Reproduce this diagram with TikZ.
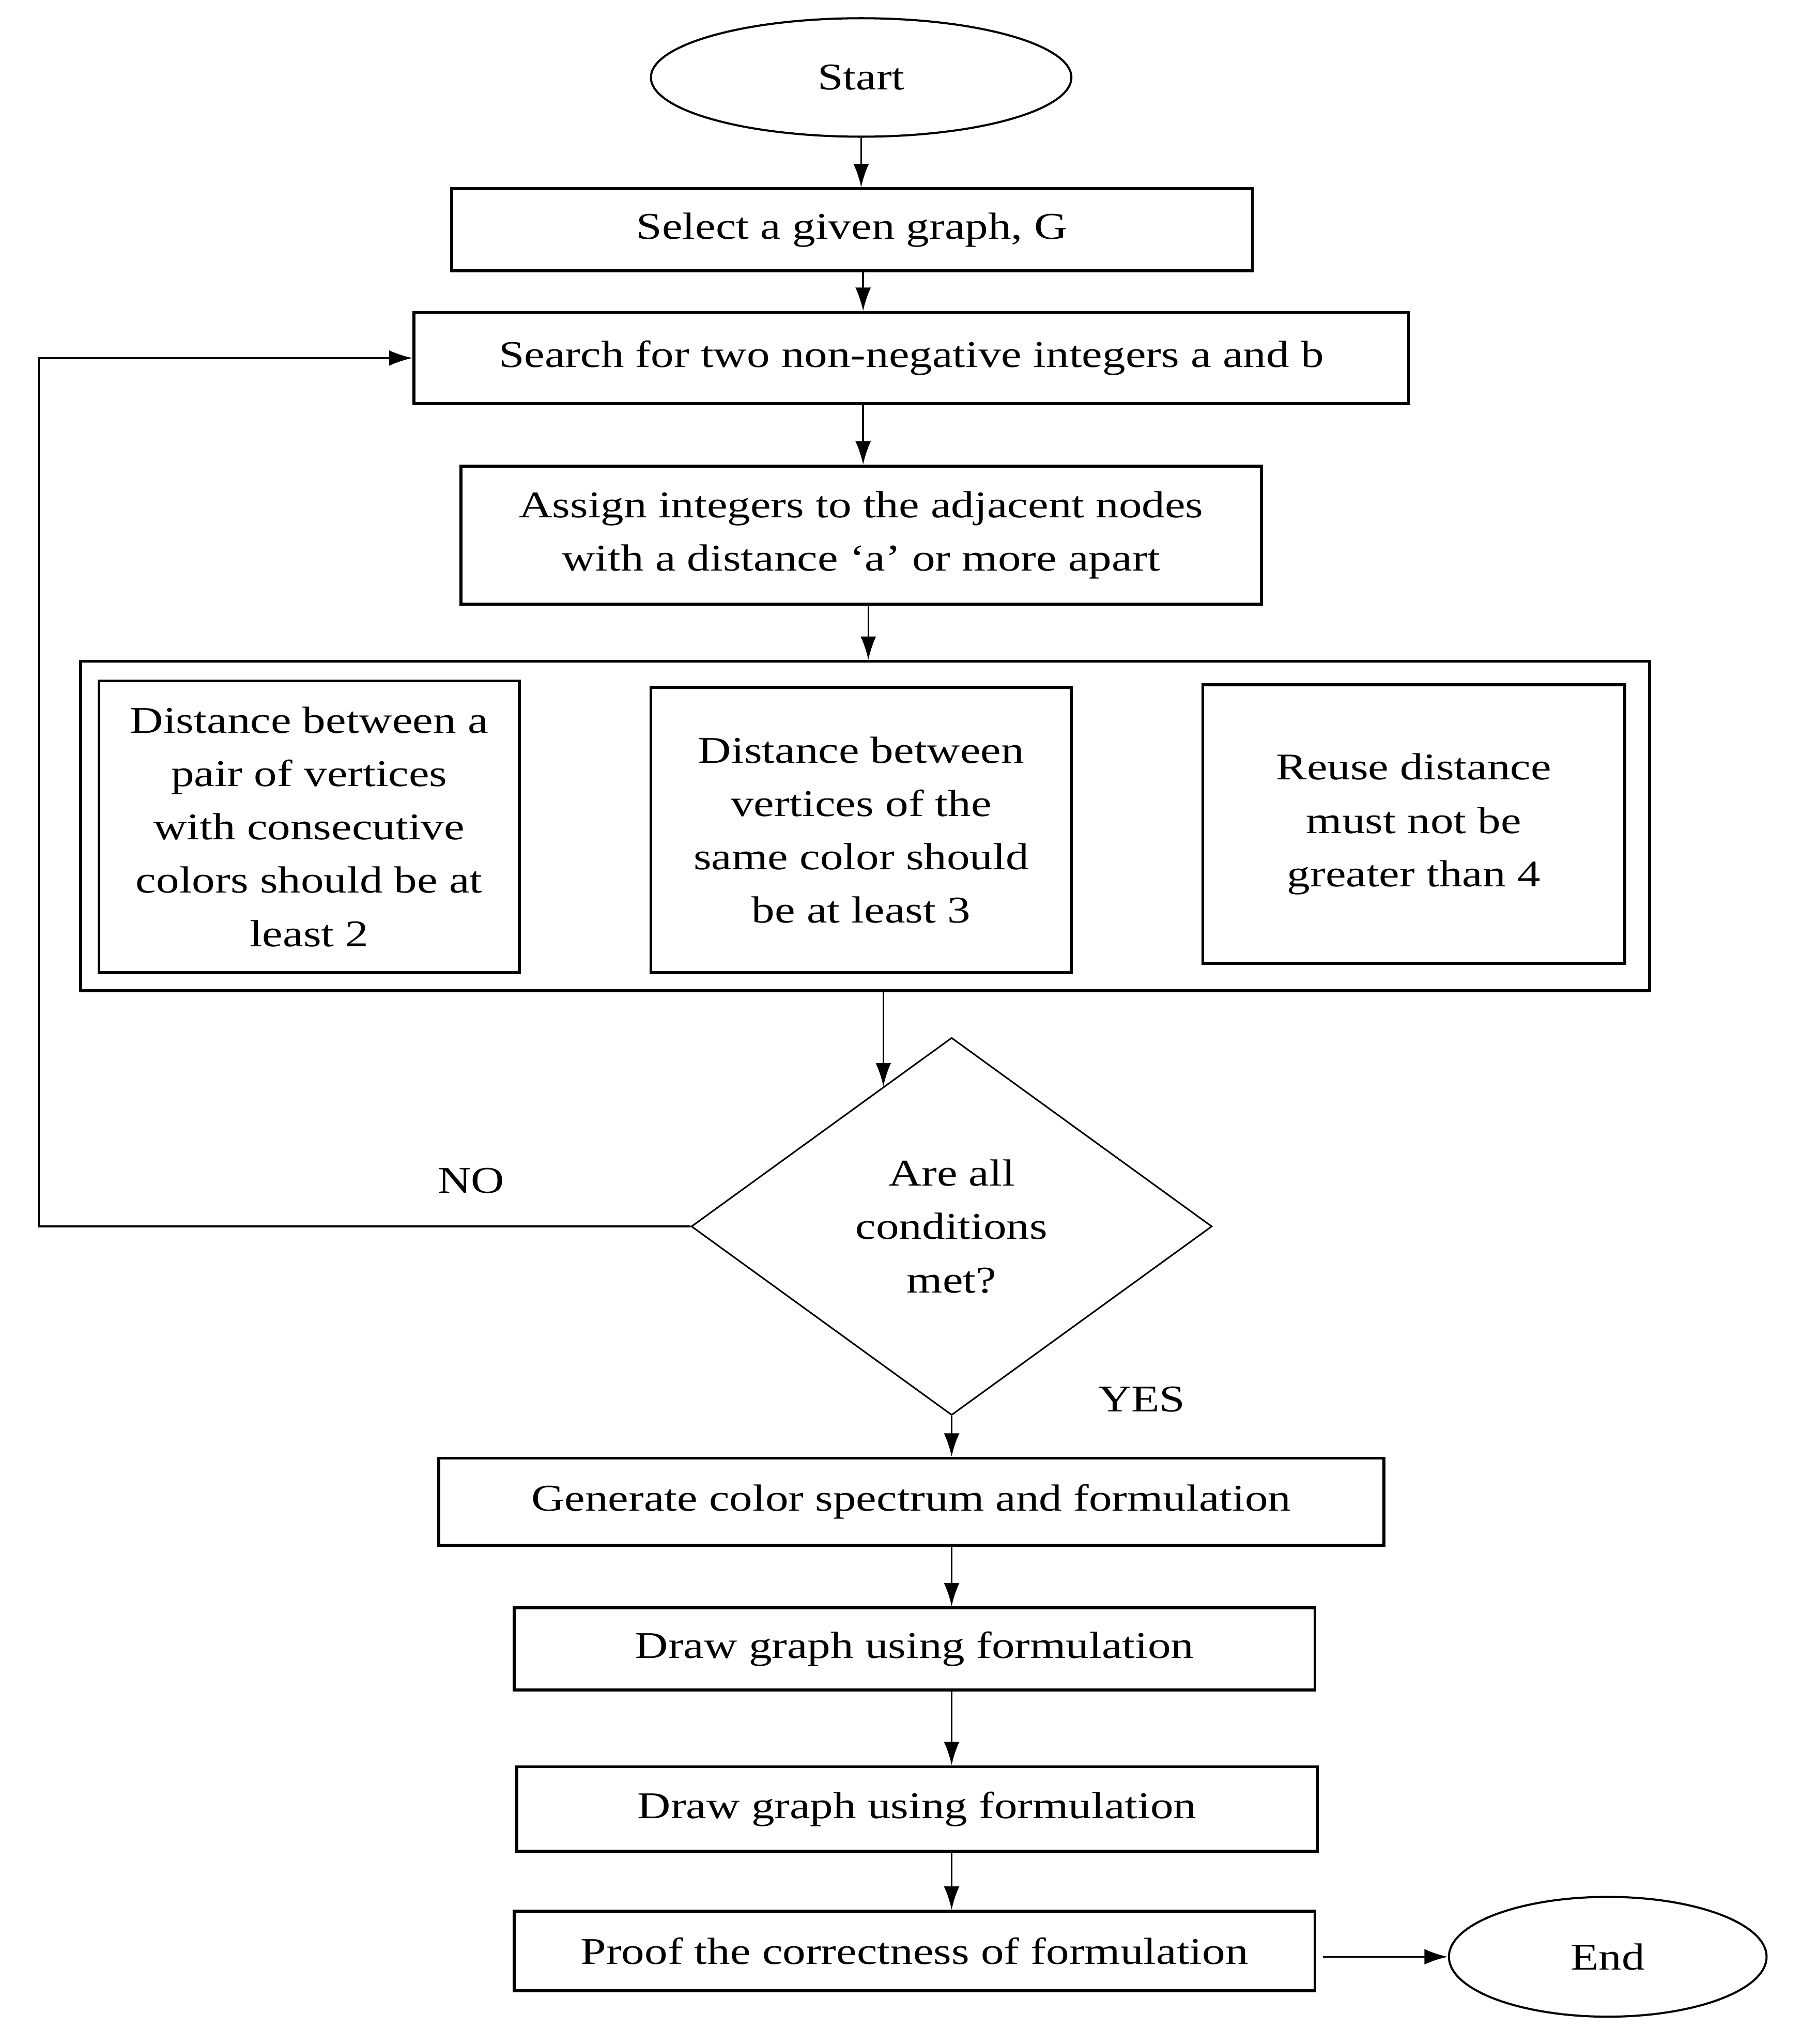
\documentclass[tikz,border=0pt]{standalone}
\usepackage{fontspec}
\setmainfont{Liberation Serif}[FakeStretch=1.22]
\usetikzlibrary{shapes.geometric,arrows.meta}
\newcommand\myfs{\fontsize{29}{41}\selectfont}
\begin{document}
\begin{tikzpicture}[x=1pt,y=-1pt,
  box/.style={draw,line width=2.2pt,inner sep=0pt,align=center,font=\myfs},
  term/.style={draw,ellipse,line width=1.6pt,inner sep=0pt,font=\myfs},
  dia/.style={draw,diamond,line width=1.2pt,inner sep=0pt,align=center,font=\myfs},
  arr/.style={line width=1.4pt,-{Latex[length=18pt,width=12pt]}},
  lbl/.style={font=\myfs,inner sep=0pt}]
\useasboundingbox (0,0) rectangle (1384,1570);
\node[term,minimum width=323pt,minimum height=91pt] (start) at (661.5,59.5) {Start};
\node[box,minimum width=615pt,minimum height=63pt] (select) at (654.5,176.5) {Select a given graph, G};
\node[box,minimum width=764pt,minimum height=70pt] (search) at (700,275) {Search for two non-negative integers a and b};
\node[box,minimum width=615pt,minimum height=106pt] (assign) at (661.5,411) {Assign integers to the adjacent nodes\\with a distance `a' or more apart};
\node[box,minimum width=1205pt,minimum height=253pt] (outer) at (664.5,634.5) {};
\node[box,minimum width=323pt,minimum height=224pt] (c1) at (237.5,635) {Distance between a\\pair of vertices\\with consecutive\\colors should be at\\least 2};
\node[box,minimum width=323pt,minimum height=219pt] (c2) at (661.5,637.5) {Distance between\\vertices of the\\same color should\\be at least 3};
\node[box,minimum width=324pt,minimum height=214pt] (c3) at (1086,633) {Reuse distance\\must not be\\greater than 4};
\node[dia,minimum width=400pt,minimum height=290pt] (dec) at (731,942) {Are all\\conditions\\met?};
\node[box,minimum width=726pt,minimum height=67pt] (gen) at (700,1153.5) {Generate color spectrum and formulation};
\node[box,minimum width=615pt,minimum height=63pt] (draw1) at (702.5,1266.5) {Draw graph using formulation};
\node[box,minimum width=615pt,minimum height=65pt] (draw2) at (704.5,1389.5) {Draw graph using formulation};
\node[box,minimum width=615pt,minimum height=61pt] (proof) at (702.5,1498.5) {Proof the correctness of formulation};
\node[term,minimum width=244pt,minimum height=92pt] (end) at (1235,1503) {End};
\node[lbl] (no) at (362,907) {NO};
\node[lbl] (yes) at (877,1075) {YES};
\coordinate (xa) at (663,0);
\coordinate (xb) at (667,0);
\coordinate (loopx) at (30,942);
\draw[arr] (start.south) -- (start.south |- select.north);
\draw[arr] (select.south -| xa) -- (search.north -| xa);
\draw[arr] (search.south -| xa) -- (assign.north -| xa);
\draw[arr] (assign.south -| xb) -- (outer.north -| xb);
\draw[arr] (outer.south -| dec.116.3) -- (dec.116.3);
\draw[arr] (dec.west) -- (loopx) |- (search.west);
\draw[arr] (dec.south) -- (dec.south |- gen.north);
\draw[arr] (gen.south -| dec.south) -- (draw1.north -| dec.south);
\draw[arr] (draw1.south -| dec.south) -- (draw2.north -| dec.south);
\draw[arr] (draw2.south -| dec.south) -- (proof.north -| dec.south);
\draw[arr,shorten <=5pt] (proof.east |- end.west) -- (end.west);
\end{tikzpicture}
\end{document}
